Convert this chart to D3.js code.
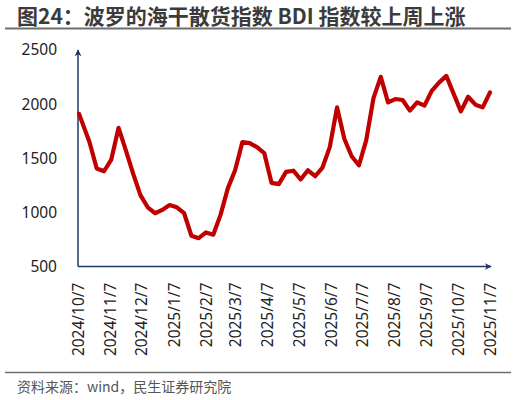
<!DOCTYPE html>
<html>
<head>
<meta charset="utf-8">
<script src="https://cdn.jsdelivr.net/npm/d3@7"></script>
<style>
  body { margin: 0; background: #fff; }
  svg { display: block; }
</style>
</head>
<body>
<div id="chart"></div>
<script>
// weekly BDI readings
var dates = [
    "2024-10-08", "2024-10-18", "2024-10-25", "2024-11-01", "2024-11-08", "2024-11-15",
    "2024-11-22", "2024-11-29", "2024-12-06", "2024-12-13", "2024-12-20", "2024-12-27",
    "2025-01-03", "2025-01-10", "2025-01-17", "2025-01-24", "2025-01-31", "2025-02-07",
    "2025-02-14", "2025-02-21", "2025-02-28", "2025-03-07", "2025-03-14", "2025-03-21",
    "2025-03-28", "2025-04-04", "2025-04-11", "2025-04-18", "2025-04-25", "2025-05-02",
    "2025-05-09", "2025-05-16", "2025-05-23", "2025-05-30", "2025-06-06", "2025-06-13",
    "2025-06-20", "2025-06-27", "2025-07-04", "2025-07-11", "2025-07-18", "2025-07-25",
    "2025-08-01", "2025-08-08", "2025-08-15", "2025-08-22", "2025-08-29", "2025-09-05",
    "2025-09-12", "2025-09-19", "2025-09-26", "2025-10-03", "2025-10-10", "2025-10-17",
    "2025-10-24", "2025-10-31", "2025-11-07"
];
var bdi = [
    1910, 1650, 1405, 1380, 1488, 1781,
    1573, 1359, 1160, 1047, 992, 1023,
    1068, 1047, 992, 784, 762, 815,
    794, 977, 1222, 1389, 1649, 1640,
    1603, 1548, 1273, 1261, 1374, 1385,
    1304, 1389, 1334, 1414, 1603, 1970,
    1680, 1518, 1435, 1665, 2056, 2252,
    2016, 2047, 2038, 1940, 2016, 1986,
    2123, 2199, 2261, 2097, 1933, 2068,
    1995, 1970, 2108
];
var tickLabels = [
    "2024/10/7", "2024/11/7", "2024/12/7", "2025/1/7", "2025/2/7", "2025/3/7", "2025/4/7",
    "2025/5/7", "2025/6/7", "2025/7/7", "2025/8/7", "2025/9/7", "2025/10/7", "2025/11/7"
];
var yTicks = [500, 1000, 1500, 2000, 2500];

var title = "图24：波罗的海干散货指数 BDI 指数较上周上涨";
var source = "资料来源：wind，民生证券研究院";

var W = 516, H = 400;
var axisColor = "#1f3864";
var lineColor = "#c00000";
var parse = d3.timeParse("%Y-%m-%d");
var parseTick = d3.timeParse("%Y/%m/%d");

var data = dates.map(function(d, i) { return { date: parse(d), value: bdi[i] }; });
var tickDates = tickLabels.map(function(t) { return parseTick(t); });

var svg = d3.select("#chart").append("svg")
    .attr("width", W)
    .attr("height", H);

svg.append("rect").attr("width", W).attr("height", H).attr("fill", "#fff");

// title + rule
svg.append("text")
    .attr("x", 17)
    .attr("y", 24)
    .attr("font-family", "'Noto Sans CJK SC', sans-serif")
    .attr("font-weight", "bold")
    .attr("font-size", 21)
    .attr("fill", "#3b3b3b")
    .text(title);
svg.append("line")
    .attr("x1", 5).attr("x2", 511)
    .attr("y1", 28.5).attr("y2", 28.5)
    .attr("stroke", "#6e6e6e")
    .attr("stroke-width", 2);

// bottom rule + source
svg.append("line")
    .attr("x1", 5).attr("x2", 511)
    .attr("y1", 372.5).attr("y2", 372.5)
    .attr("stroke", "#6e6e6e")
    .attr("stroke-width", 1.5);
svg.append("text")
    .attr("x", 17)
    .attr("y", 392)
    .attr("font-family", "'Noto Sans CJK SC', sans-serif")
    .attr("font-size", 14)
    .attr("fill", "#555")
    .text(source);

var x = d3.scaleTime()
    .domain([tickDates[0], tickDates[tickDates.length - 1]])
    .range([78, 490]);
var y = d3.scaleLinear()
    .domain([500, 2500])
    .range([266.5, 50]);

// arrow marker
var defs = svg.append("defs");
defs.append("marker")
    .attr("id", "arrow")
    .attr("viewBox", "0 0 10 10")
    .attr("refX", 9)
    .attr("refY", 5)
    .attr("markerWidth", 7)
    .attr("markerHeight", 7)
    .attr("markerUnits", "userSpaceOnUse")
    .attr("orient", "auto")
    .append("path")
    .attr("d", "M0,0 L10,5 L0,10 L3,5 z")
    .attr("fill", axisColor);

// y axis labels
var yAxis = svg.append("g")
    .attr("transform", "translate(78,0)")
    .call(d3.axisLeft(y).tickValues(yTicks).tickSize(0).tickPadding(21).tickFormat(d3.format("d")));
yAxis.select(".domain").remove();
yAxis.selectAll("text")
    .attr("font-family", "'Noto Sans', sans-serif")
    .attr("font-size", 15.5)
    .attr("fill", "#222");

// x axis labels
var xAxis = svg.append("g")
    .attr("transform", "translate(0," + y(500) + ")")
    .call(d3.axisBottom(x).tickValues(tickDates).tickSize(0).tickFormat(function(d, i) { return tickLabels[i]; }));
xAxis.select(".domain").remove();
xAxis.selectAll("text")
    .attr("font-family", "'Noto Sans', sans-serif")
    .attr("font-size", 15.5)
    .attr("fill", "#222")
    .attr("text-anchor", "end")
    .attr("transform", "rotate(-90)")
    .attr("x", -16)
    .attr("y", 0)
    .attr("dy", "0.35em");

// axis lines with arrows
svg.append("line")
    .attr("x1", x.range()[0]).attr("x2", x.range()[0])
    .attr("y1", y(500)).attr("y2", y(2500))
    .attr("stroke", axisColor)
    .attr("stroke-width", 1.5)
    .attr("marker-end", "url(#arrow)");
svg.append("line")
    .attr("x1", x.range()[0]).attr("x2", x.range()[1] + 1)
    .attr("y1", y(500)).attr("y2", y(500))
    .attr("stroke", axisColor)
    .attr("stroke-width", 1.5)
    .attr("marker-end", "url(#arrow)");

// BDI line
var line = d3.line()
    .x(function(d) { return x(d.date); })
    .y(function(d) { return y(d.value); });

svg.append("path")
    .datum(data)
    .attr("d", line)
    .attr("fill", "none")
    .attr("stroke", lineColor)
    .attr("stroke-width", 4.2)
    .attr("stroke-linejoin", "round")
    .attr("stroke-linecap", "round");
</script>
</body>
</html>
